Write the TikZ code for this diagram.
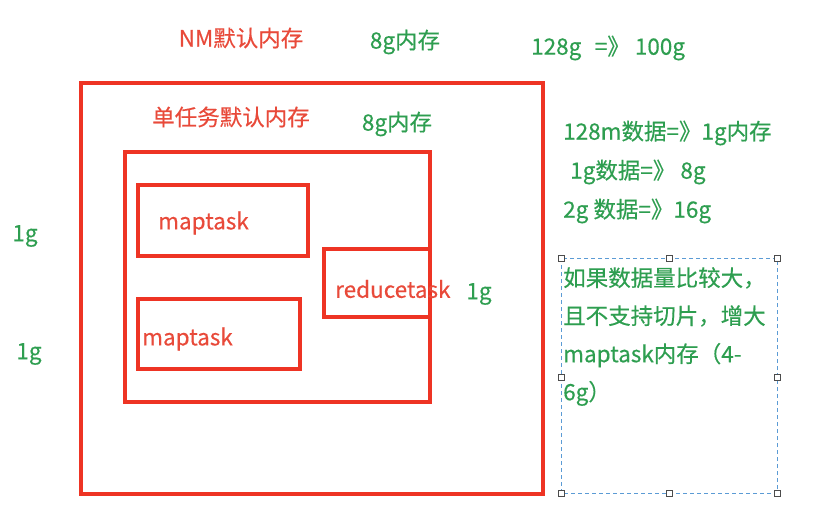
\documentclass[tikz,border=0pt]{standalone}
\usepackage{fontspec}
\setmainfont{Noto Sans CJK SC}[FakeBold=0.4]
\definecolor{boxred}{HTML}{EE3424}
\definecolor{txtred}{HTML}{E84A3A}
\definecolor{txtgreen}{HTML}{2E9E50}
\definecolor{dashblue}{HTML}{5B9BD5}
\tikzset{
  redbox/.style={draw=boxred, line width=4.5pt, inner sep=0pt},
  redtxt/.style={text=txtred, font=\fontsize{22.5}{26}\selectfont, inner sep=0pt},
  greentxt/.style={text=txtgreen, font=\fontsize{22.5}{26}\selectfont, inner sep=0pt},
  handle/.style={draw=gray!60!black, fill=white, line width=0.8pt, minimum size=6pt, inner sep=0pt},
}
\begin{document}
\begin{tikzpicture}[x=1pt,y=-1pt]
\useasboundingbox (0,0) rectangle (827,511);
% boxes
\node[redbox, minimum width=462pt, minimum height=411pt] (nm) at (312,288.5) {};
\node[redbox, minimum width=305pt, minimum height=250pt] (task) at (277.5,277) {};
\node[redbox, minimum width=170pt, minimum height=71pt] (map1) at (223,220.5) {};
\node[redbox, minimum width=162pt, minimum height=70pt] (map2) at (219,334) {};
\node[redbox, minimum width=106pt, minimum height=68pt] (red) at (377,283) {};
% labels in boxes
\node[redtxt, anchor=west] (l1) at (158,223) {maptask};
\node[redtxt, anchor=west] (l2) at (142,339) {maptask};
\node[redtxt, anchor=west] (l3) at (335,289) {reducetask};
% top labels
\node[redtxt] (nmlab) at (241,38) {NM默认内存};
\node[greentxt] (nmmem) at (405,42) {8g内存};
\node[greentxt, anchor=west] (r0) at (531,48) {128g\hspace{0.6em}=》 100g};
\node[redtxt] (tasklab) at (231,117) {单任务默认内存};
\node[greentxt] (taskmem) at (397,124) {8g内存};
\node[greentxt, anchor=west] (r1) at (563,133) {128m数据=》1g内存};
\node[greentxt, anchor=west] (r2) at (570,172) {1g数据=》 8g};
\node[greentxt, anchor=west] (r3) at (563,211) {2g 数据=》16g};
% side labels
\node[greentxt] (g1) at (25,236) {1g};
\node[greentxt] (g2) at (29,354) {1g};
\node[greentxt] (g3) at (479,294) {1g};
% note box
\draw[dashblue, dash pattern=on 4pt off 3pt, line width=1pt] (561,258) rectangle (777,493);
\node[greentxt, anchor=north west, align=left, font=\fontsize{22.5}{38}\selectfont] (note) at (563,267)
  {如果数据量比较大，\\且不支持切片，增大\\maptask内存（4-\\6g）};
\foreach \p in {(561,258),(669,258),(777,258),(561,377),(777,377),(561,493),(669,493),(777,493)}
  \node[handle] at \p {};
\end{tikzpicture}
\end{document}
